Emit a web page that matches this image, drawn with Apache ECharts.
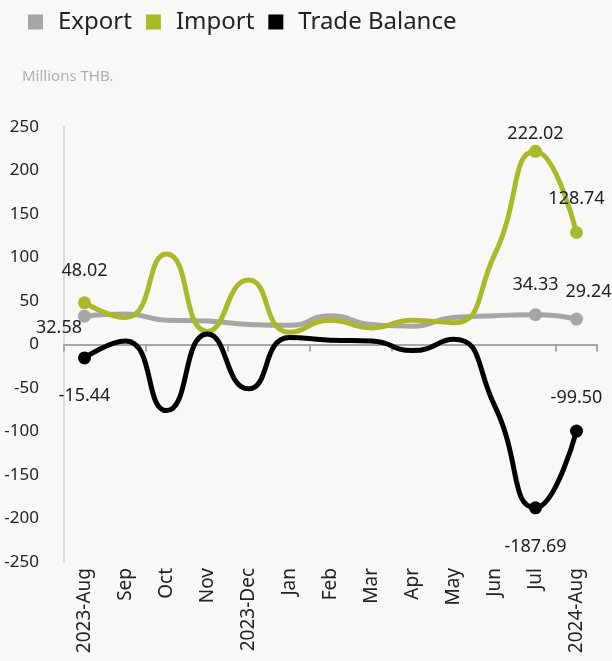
<!DOCTYPE html>
<html>
<head>
<meta charset="utf-8">
<script src="https://cdn.jsdelivr.net/npm/echarts@6/dist/echarts.min.js"></script>
<style>
  html, body { margin: 0; padding: 0; background: #f8f8f6; }
  #chart { width: 612px; height: 661px; }
</style>
</head>
<body>
<div id="chart"></div>
<script>
const months = ['2023-Aug', 'Sep', 'Oct', 'Nov', '2023-Dec', 'Jan', 'Feb', 'Mar', 'Apr', 'May', 'Jun', 'Jul', '2024-Aug']
const exportVals = [32.58, 35, 28, 27, 23, 22, 33, 23, 21, 31, 33, 34.33, 29.24]
const importVals = [48.02, 31, 104, 15, 74, 14, 28, 19, 28, 25, 103, 222.02, 128.74]
const balanceVals = [-15.44, 4, -76, 12, -51, 8, 5, 4, -7, 6, -70, -187.69, -99.50]
const yTicks = [-250, -200, -150, -100, -50, 0, 50, 100, 150, 200, 250]

// only the first point and the last two carry a dot and a value
const marked = [0, 11, 12]
const labelPos = {
  Export: {0: {position: 'left', offset: [9, 12]}, 11: {position: 'top', distance: 14}, 12: {position: 'top', distance: 12, offset: [12, 0]}},
  Import: {0: {position: 'top', distance: 16}, 11: {position: 'top', distance: 2}, 12: {position: 'top', distance: 18}},
  'Trade Balance': {0: {position: 'bottom', distance: 22}, 11: {position: 'bottom', distance: 24}, 12: {position: 'top', distance: 18}},
}

const font = '"Noto Sans", sans-serif'

const buildData = (name, vals) => vals.map((v, i) => {
  if (!marked.includes(i)) {
    return {value: v, symbolSize: 0}
  }
  return {
    value: v,
    symbolSize: 13,
    label: Object.assign({
      show: true,
      formatter: (p) => p.value.toFixed(2),
      color: '#222',
      fontSize: 18,
      fontFamily: font,
    }, labelPos[name][i]),
  }
})

const makeSeries = (name, vals, color) => ({
  name: name,
  type: 'line',
  smooth: 0.55,
  symbol: 'circle',
  lineStyle: {width: 5, color: color},
  itemStyle: {color: color},
  emphasis: {disabled: true},
  data: buildData(name, vals),
})

const chart = echarts.init(document.getElementById('chart'))
chart.setOption({
  backgroundColor: '#f8f8f6',
  animation: false,
  textStyle: {fontFamily: font},
  title: {
    text: 'Millions THB.',
    left: 17,
    top: 64,
    textStyle: {fontSize: 15, fontWeight: 'normal', color: '#b0b0b0', fontFamily: font},
  },
  legend: {
    left: 23,
    top: 5,
    icon: 'rect',
    itemWidth: 15,
    itemHeight: 15,
    itemGap: 14,
    textStyle: {fontSize: 24, color: '#222', fontFamily: font, padding: [0, 0, 0, 10]},
    data: ['Export', 'Import', 'Trade Balance'],
  },
  grid: {
    left: 64,
    right: 15,
    top: 127,
    height: 435,
  },
  xAxis: [{
    type: 'category',
    data: months,
    axisLine: {onZero: true, lineStyle: {color: '#a8a8a8', width: 2}},
    axisTick: {show: true, length: 7, lineStyle: {color: '#a8a8a8', width: 2}},
    axisLabel: {show: false},
  }, {
    type: 'category',
    data: months,
    position: 'bottom',
    axisLine: {show: false, onZero: false},
    axisTick: {show: false},
    axisLabel: {
      rotate: 90,
      margin: 6,
      interval: 0,
      fontSize: 19,
      color: '#222',
      fontFamily: font,
    },
  }],
  yAxis: {
    type: 'value',
    min: yTicks[0],
    max: yTicks[yTicks.length - 1],
    interval: 50,
    axisLine: {show: true, lineStyle: {color: '#dcdcdc', width: 2}},
    axisTick: {show: false},
    splitLine: {show: false},
    axisLabel: {
      margin: 25,
      fontSize: 17,
      color: '#222',
      fontFamily: font,
    },
  },
  series: [
    makeSeries('Export', exportVals, '#a6a6a6'),
    makeSeries('Import', importVals, '#a8ba2a'),
    makeSeries('Trade Balance', balanceVals, '#000000'),
  ],
})
</script>
</body>
</html>
